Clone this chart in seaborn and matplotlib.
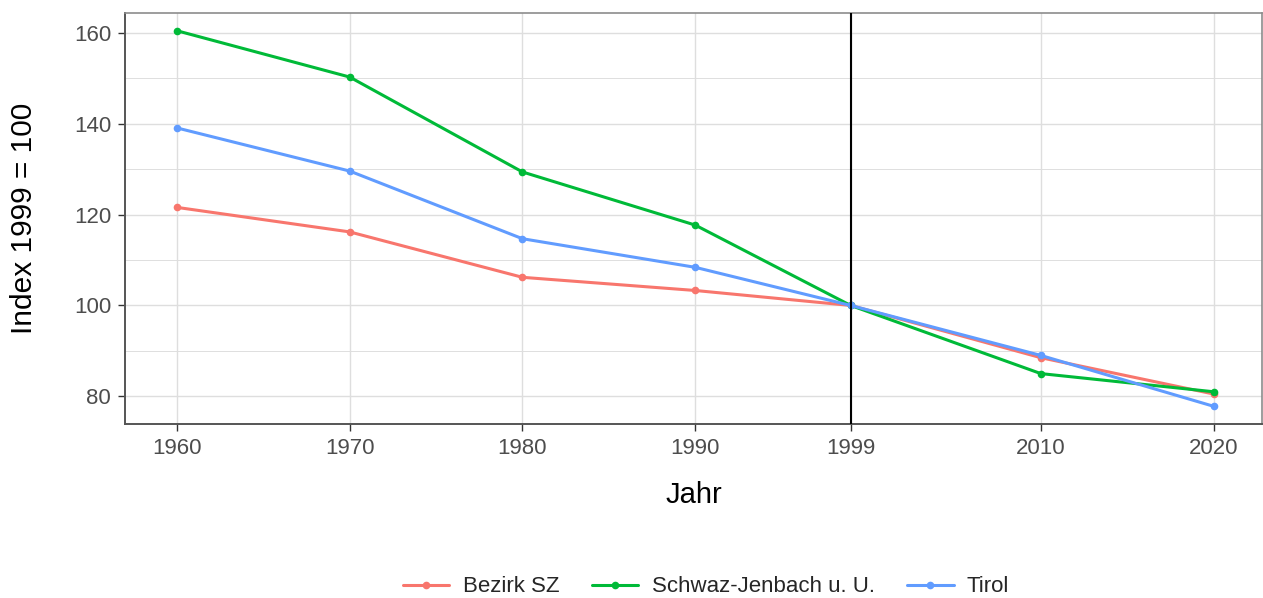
import numpy as np
import pandas as pd
import matplotlib
matplotlib.use("Agg")
import matplotlib.pyplot as plt
from matplotlib.lines import Line2D
import seaborn as sns

# Data
years = [1960, 1970, 1980, 1990, 1999, 2010, 2020]
bezirk_sz = [121.6, 116.2, 106.2, 103.3, 100.0, 88.5, 80.5]
schwaz_jenbach = [160.5, 150.3, 129.4, 117.7, 100.0, 85.0, 81.0]
tirol = [139.1, 129.6, 114.7, 108.4, 100.0, 89.0, 77.8]
series_names = ["Bezirk SZ", "Schwaz-Jenbach u. U.", "Tirol"]
colors = ["#F8766D", "#00BA38", "#619CFF"]
y_ticks = [80, 100, 120, 140, 160]

df = pd.DataFrame({
    "Jahr": years * 3,
    "Index": bezirk_sz + schwaz_jenbach + tirol,
    "Gebiet": [series_names[0]] * 7 + [series_names[1]] * 7 + [series_names[2]] * 7,
})

sns.set_theme(style="white")
plt.rcParams["font.family"] = ["Liberation Sans", "DejaVu Sans"]

fig = plt.figure(figsize=(12.63, 5.98), dpi=100)
ax = fig.add_axes([125 / 1263, 1 - 424 / 598, (1262 - 125) / 1263, (424 - 13) / 598])

# gridlines first, under the data
for y in range(80, 161, 10):
    ax.axhline(y, color="#DEDEDE", lw=1.0 if y % 20 == 0 else 0.7, zorder=0)
for x in years:
    ax.axvline(x, color="#DEDEDE", lw=1.0, zorder=0)

sns.lineplot(data=df, x="Jahr", y="Index", hue="Gebiet", hue_order=series_names,
             palette=colors, marker="o", markersize=5.5, markeredgewidth=0,
             linewidth=2.2, legend=False, ax=ax, zorder=3)

ax.axvline(1999, color="black", lw=1.5, zorder=4)

ax.set_xlim(1957, 2022.8)
ax.set_ylim(73.9, 164.4)
ax.set_xticks(years)
ax.set_yticks(y_ticks)
ax.tick_params(axis="both", which="major", labelsize=16, labelcolor="#4D4D4D",
               length=5, width=1, color="#333333", direction="out",
               bottom=True, left=True, pad=5)

for side in ["top", "right"]:
    ax.spines[side].set_color("#8C8C8C")
    ax.spines[side].set_linewidth(1.2)
for side in ["left", "bottom"]:
    ax.spines[side].set_color("#555555")
    ax.spines[side].set_linewidth(1.4)

ax.set_xlabel("Jahr", fontsize=21, labelpad=16, color="black")
ax.set_ylabel("Index 1999 = 100", fontsize=21.5, color="black")
ax.yaxis.set_label_coords(-(125 - 38) / (1262 - 125), 0.5)

handles = [Line2D([0], [0], color=c, lw=2.2, marker="o", markersize=5.5,
                  markeredgewidth=0) for c in colors]
fig.legend(handles, series_names, loc="center", bbox_to_anchor=(706 / 1263, 1 - 587 / 598),
           ncol=3, frameon=False, fontsize=16, handlelength=2.1,
           columnspacing=1.45, handletextpad=0.6)

fig.savefig("out.png", dpi=100)
